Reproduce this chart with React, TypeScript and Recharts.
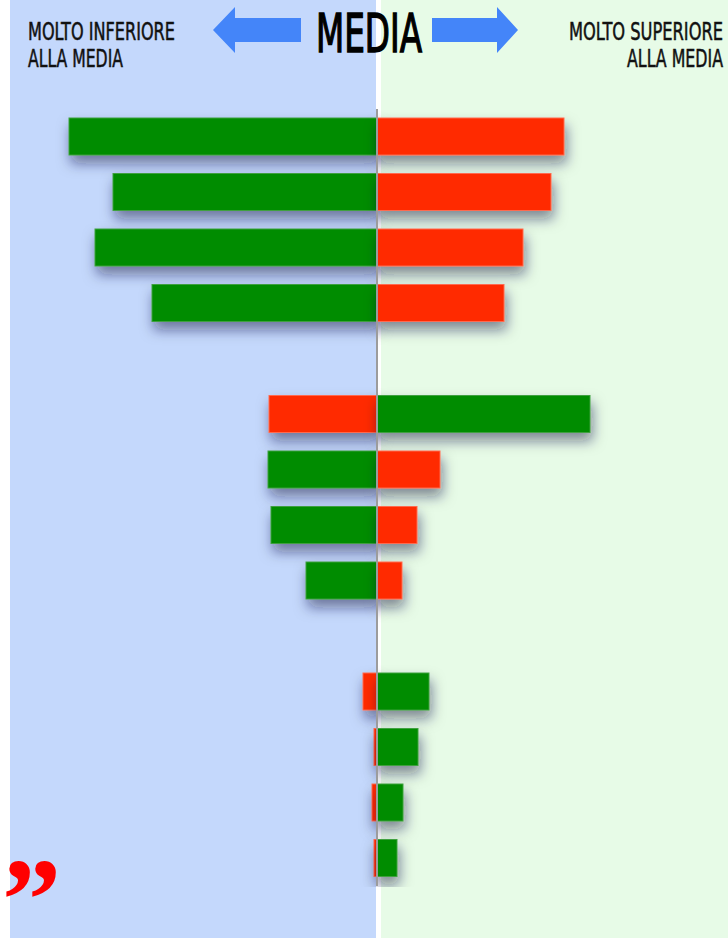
import { Bar, BarChart, ReferenceLine, XAxis, YAxis } from "recharts";

const W = 728;
const H = 938;

// rows top to bottom; "gap" rows are empty spacers between groups
const categories = ["r1", "r2", "r3", "r4", "gap1", "r5", "r6", "r7", "r8", "gap2", "r9", "r10", "r11", "r12"];
const belowValues = [-308, -264, -282, -225, null, -108, -109, -106, -71, null, -14, -3, -5, -3];
const aboveValues = [187, 174, 146, 127, null, 213, 63, 40, 25, null, 52, 41, 26, 20];
const belowColors = ["g", "g", "g", "g", null, "r", "g", "g", "g", null, "r", "r", "r", "r"];
const aboveColors = ["r", "r", "r", "r", null, "g", "r", "r", "r", null, "g", "g", "g", "g"];

const GREEN = "#008c00";
const RED = "#ff2a00";
const fillOf = (c: string | null) => (c === "g" ? GREEN : RED);
const strokeOf = (c: string | null) => (c === "g" ? "#3fa03f" : "#ff6a4f");

const data = categories.map((name, i) => ({
  name,
  below: belowValues[i],
  above: aboveValues[i],
  belowColor: belowColors[i],
  aboveColor: aboveColors[i],
}));

const condensed = "'Liberation Sans Narrow', 'DejaVu Sans Condensed', 'Roboto Condensed', sans-serif";
const SQUEEZE = 0.75;

function makeShape(colorKey: "belowColor" | "aboveColor") {
  return (props: any) => {
    const { x, y, width, height, payload } = props;
    if (width == null || height == null || !payload || payload[colorKey] == null) return <g />;
    const x0 = Math.min(x, x + width);
    const w = Math.abs(width);
    const c = payload[colorKey];
    return (
      <rect
        x={x0}
        y={y}
        width={w}
        height={height}
        fill={fillOf(c)}
        stroke={strokeOf(c)}
        strokeWidth={1}
        filter="url(#barShadow)"
      />
    );
  };
}

// narrow caption: squeezed horizontally, then fitted to an exact width
function Caption({ x, y, width, anchor = "start", children }: any) {
  return (
    <text
      transform={`translate(${x},${y}) scale(${SQUEEZE},1)`}
      textAnchor={anchor}
      fontFamily={condensed}
      fontSize={24}
      fill="#111"
      stroke="#111"
      strokeWidth={0.5}
      textLength={width / SQUEEZE}
      lengthAdjust="spacingAndGlyphs"
    >
      {children}
    </text>
  );
}

function Backdrop() {
  return (
    <svg width={W} height={H} style={{ position: "absolute", left: 0, top: 0 }}>
      <rect x={0} y={0} width={W} height={H} fill="#ffffff" />
      <rect x={10} y={0} width={366} height={H} fill="#c4d8fc" />
      <rect x={381} y={0} width={W - 381} height={H} fill="#e7fbe7" />
      <polygon points="213,30 235,7 235,18 301,18 301,42 235,42 235,53" fill="#4485f9" />
      <polygon points="518,30 497,7 497,18 432,18 432,42 497,42 497,53" fill="#4485f9" />
      <text x={316} y={52} fontFamily={condensed} fontSize={54} fill="#000" stroke="#000" strokeWidth={1.4} textLength={106} lengthAdjust="spacingAndGlyphs">
        MEDIA
      </text>
      <Caption x={28} y={40} width={147}>MOLTO INFERIORE</Caption>
      <Caption x={28} y={67} width={95}>ALLA MEDIA</Caption>
      <Caption x={723} y={40} width={154} anchor="end">MOLTO SUPERIORE</Caption>
      <Caption x={723} y={67} width={96} anchor="end">ALLA MEDIA</Caption>
    </svg>
  );
}

export default function App() {
  return (
    <div style={{ position: "absolute", left: 0, top: 0, width: W, height: H, overflow: "hidden" }}>
      <Backdrop />
      <div style={{ position: "absolute", left: 0, top: 0 }}>
        <BarChart
          width={W}
          height={H}
          data={data}
          layout="vertical"
          stackOffset="sign"
          margin={{ top: 109, right: 0, bottom: 52, left: 10 }}
        >
          <defs>
            <filter id="barShadow" filterUnits="userSpaceOnUse" x={0} y={0} width={W} height={887}>
              <feDropShadow dx={2} dy={8} stdDeviation={6.5} floodColor="#0a1440" floodOpacity={0.5} />
            </filter>
          </defs>
          <XAxis type="number" domain={[-367, 351]} hide />
          <YAxis type="category" dataKey="name" hide />
          <Bar dataKey="below" stackId="s" barSize={37} isAnimationActive={false} shape={makeShape("belowColor")} />
          <Bar dataKey="above" stackId="s" barSize={37} isAnimationActive={false} shape={makeShape("aboveColor")} />
          <ReferenceLine x={0} stroke="#9c9c9c" strokeWidth={2} />
        </BarChart>
      </div>
      <svg width={W} height={H} style={{ position: "absolute", left: 0, top: 0, pointerEvents: "none" }}>
        <text x={3} y={878} fontFamily="'Liberation Serif', 'DejaVu Serif', serif" fontWeight="bold" fontSize={118} fill="#ff0000">
          „
        </text>
      </svg>
    </div>
  );
}
